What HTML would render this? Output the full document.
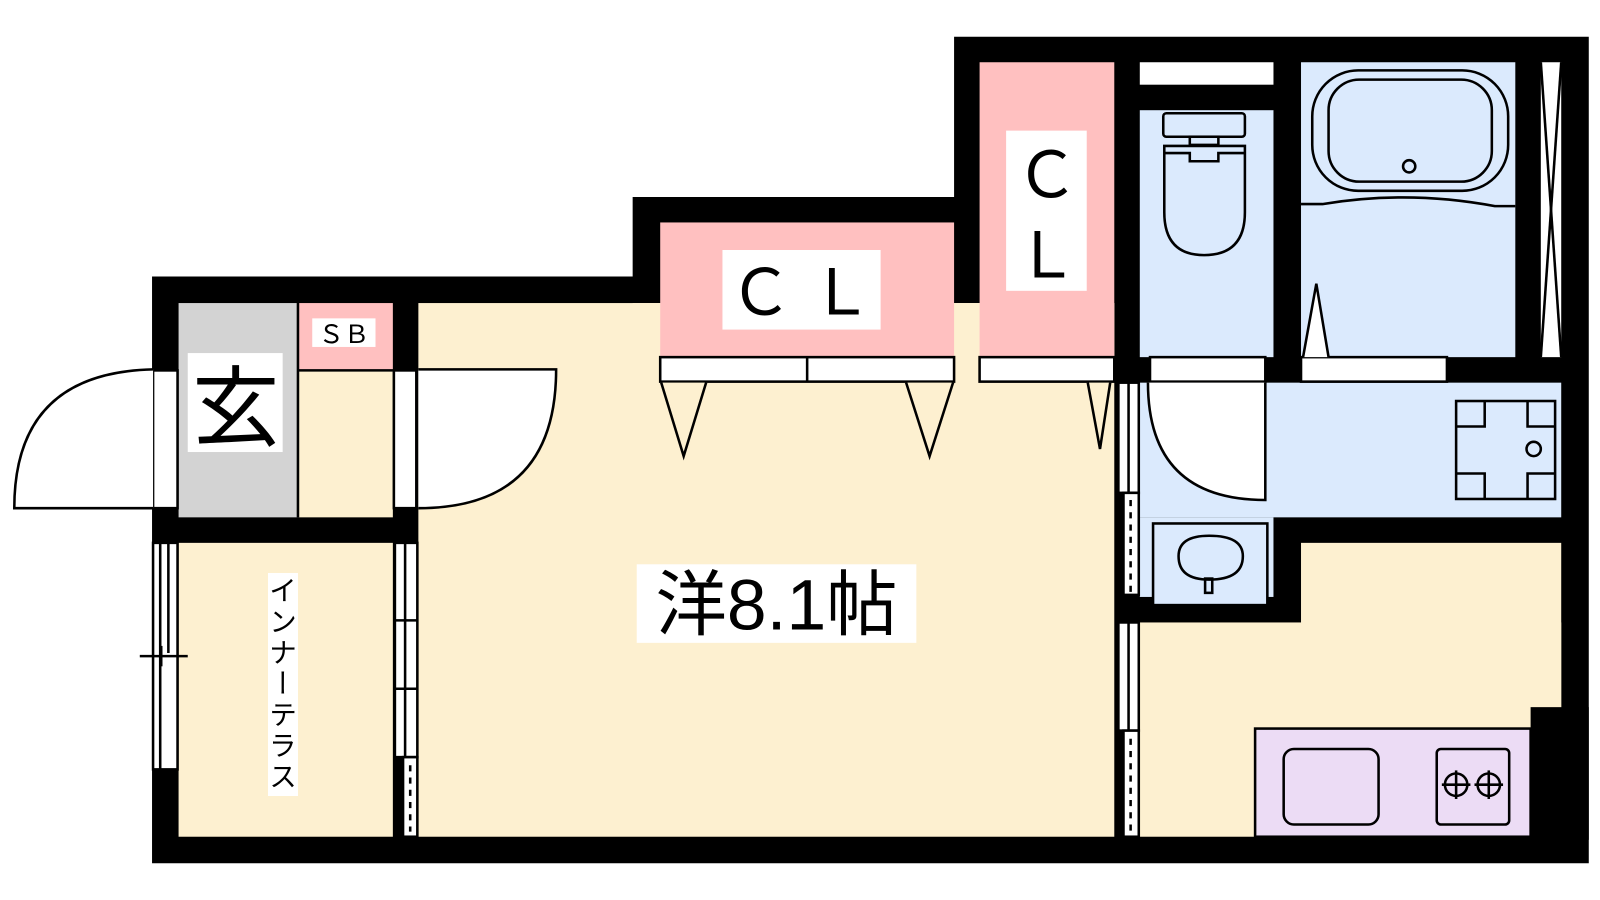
<!DOCTYPE html>
<html><head><meta charset="utf-8"><style>
html,body{margin:0;padding:0;background:#fff;width:1600px;height:900px;overflow:hidden;position:relative}
svg{display:block}
text{font-family:"Liberation Sans","Noto Sans CJK JP",sans-serif;fill:#000}
.vt{position:absolute;left:268px;top:573px;width:30px;height:223px;background:#fff;writing-mode:vertical-rl;font-family:"Noto Sans CJK JP",sans-serif;font-size:28px;line-height:30px;letter-spacing:3px;text-align:center;color:#000}
</style></head><body>
<svg width="1600" height="900" viewBox="0 0 1568 882" preserveAspectRatio="none" xmlns="http://www.w3.org/2000/svg">
<polygon points="149,271 620,271 620,193 935,193 935,36 1557,36 1557,846 149,846" fill="#000"/>
<rect x="175" y="297" width="117" height="210" fill="#d3d3d3"/>
<rect x="292" y="297" width="93" height="66" fill="#ffc0c0"/>
<rect x="292" y="363" width="93" height="144" fill="#fdf0d0"/>
<rect x="175" y="532" width="210" height="288" fill="#fdf0d0"/>
<rect x="410" y="297" width="682" height="523" fill="#fdf0d0"/>
<rect x="620" y="297" width="472" height="78" fill="#fdf0d0"/>
<rect x="647" y="218" width="288" height="132" fill="#ffc0c0"/>
<rect x="960" y="61" width="132" height="289" fill="#ffc0c0"/>
<rect x="1117" y="61" width="131" height="22" fill="#fff"/>
<rect x="1117" y="108" width="131" height="242" fill="#dbeafd"/>
<rect x="1275" y="61" width="210" height="289" fill="#dbeafd"/>
<rect x="1510" y="61" width="20" height="289" fill="#fff"/>
<rect x="1117" y="375" width="413" height="132" fill="#dbeafd"/>
<rect x="1117" y="507" width="131" height="78" fill="#dbeafd"/>
<rect x="1275" y="532" width="255" height="282" fill="#fdf0d0"/>
<rect x="1117" y="610" width="413" height="210" fill="#fdf0d0"/>
<rect x="1500" y="693" width="57" height="130" fill="#000"/>
<g stroke="#000" stroke-width="2.5" fill="none">
<rect x="647" y="350" width="288" height="24" fill="#fff"/>
<line x1="791" y1="350" x2="791" y2="374"/>
<rect x="960" y="350" width="132" height="24" fill="#fff"/>
<polyline points="648,375 670,447 692,375" fill="#fdf0d0"/>
<polyline points="888,375 911,447 934,375" fill="#fdf0d0"/>
<polyline points="1066,375 1078,440 1088,375" fill="#fdf0d0"/>
<rect x="1127" y="350" width="113" height="24" fill="#fff"/>
<rect x="1275" y="350" width="143" height="24" fill="#fff"/>
<polyline points="1277,350 1290,278 1302,350" fill="#fff"/>
<polyline points="1510,61 1530,350"/><polyline points="1530,61 1510,350"/>
<rect x="1140" y="111" width="80" height="23" rx="3" fill="#dbeafd"/>
<rect x="1166" y="134" width="28" height="8"/>
<path d="M1141,143 H1220 V208 Q1220,250 1180,250 Q1141,250 1141,208 Z" fill="#dbeafd"/>
<polyline points="1141,150 1166,150 1166,158 1194,158 1194,150 1220,150"/>
<rect x="1286" y="69" width="192" height="118" rx="45"/>
<rect x="1302" y="78" width="160" height="100" rx="30"/>
<circle cx="1381" cy="163" r="6"/>
<path d="M1275,200 H1296 Q1380,186 1465,202 H1485"/>
<path d="M1125,375 Q1125,490 1240,490 V375" fill="#fff"/>
<rect x="1427" y="393" width="97" height="96"/>
<polyline points="1427,418 1455,418 1455,393"/><polyline points="1497,393 1497,418 1524,418"/>
<polyline points="1427,464 1455,464 1455,489"/><polyline points="1497,489 1497,464 1524,464"/>
<circle cx="1503" cy="440" r="7"/>
<rect x="1130" y="513" width="112" height="80" fill="#dbeafd"/>
<path d="M1155,545 Q1155,525 1185,525 Q1218,525 1218,545 Q1218,568 1185,568 Q1155,568 1155,545 Z"/>
<rect x="1181" y="567" width="7" height="14"/>
<rect x="1230" y="714" width="270" height="106" fill="#ecdcf5"/>
<rect x="1258" y="734" width="93" height="74" rx="10"/>
<rect x="1408" y="734" width="71" height="74" rx="4"/>
<circle cx="1427" cy="769" r="11"/><circle cx="1459" cy="769" r="11"/>
<line x1="1413" y1="769" x2="1441" y2="769"/><line x1="1427" y1="755" x2="1427" y2="783"/>
<line x1="1445" y1="769" x2="1473" y2="769"/><line x1="1459" y1="755" x2="1459" y2="783"/>
<rect x="150" y="363" width="24" height="135" fill="#fff"/>
<path d="M150,362 Q14,365 14,498 H150" fill="#fff"/>
<rect x="386" y="363" width="22" height="135" fill="#fff"/>
<path d="M410,362 H545 Q545,498 410,498" fill="#fff"/>
<line x1="292" y1="297" x2="292" y2="507"/>
<line x1="292" y1="363" x2="385" y2="363"/>
<rect x="150" y="532" width="24" height="222" fill="#fff"/>
<line x1="157" y1="532" x2="157" y2="754"/><line x1="165" y1="532" x2="165" y2="640"/>
<line x1="137" y1="643" x2="184" y2="643"/><line x1="158" y1="633" x2="158" y2="653"/>
<rect x="387" y="532" width="22" height="210" fill="#fff"/>
<line x1="397" y1="532" x2="397" y2="742"/><line x1="387" y1="608" x2="409" y2="608"/><line x1="387" y1="675" x2="409" y2="675"/>
<rect x="395" y="742" width="14" height="78" fill="#fff"/>
<line x1="402" y1="750" x2="402" y2="815" stroke-dasharray="6,6"/>
<rect x="1096" y="375" width="20" height="108" fill="#fff"/>
<line x1="1106" y1="375" x2="1106" y2="483"/>
<rect x="1101" y="483" width="15" height="100" fill="#fff"/>
<line x1="1108" y1="490" x2="1108" y2="580" stroke-dasharray="6,6"/>
<rect x="1096" y="610" width="20" height="106" fill="#fff"/>
<line x1="1106" y1="610" x2="1106" y2="716"/>
<rect x="1101" y="716" width="15" height="104" fill="#fff"/>
<line x1="1108" y1="724" x2="1108" y2="815" stroke-dasharray="6,6"/>
</g>
<rect x="624" y="553" width="274" height="77" fill="#fff"/>
<text x="761" y="617" font-size="70" text-anchor="middle">洋8.1帖</text>
<rect x="708" y="245" width="155" height="78" fill="#fff"/>
<text x="785" y="308" font-size="62" text-anchor="middle">Ｃ Ｌ</text>
<rect x="986" y="128" width="79" height="157" fill="#fff"/>
<text x="1026" y="193" font-size="62" text-anchor="middle">Ｃ</text>
<text x="1026" y="272" font-size="62" text-anchor="middle">Ｌ</text>
<rect x="184" y="346" width="93" height="97" fill="#fff"/>
<text x="231" y="430" font-size="86" text-anchor="middle">玄</text>
<rect x="306" y="312" width="62" height="28" fill="#fff"/>
<text x="337" y="336" font-size="25" text-anchor="middle">ＳＢ</text>
</svg>
<div class="vt">インナーテラス</div>
</body></html>
